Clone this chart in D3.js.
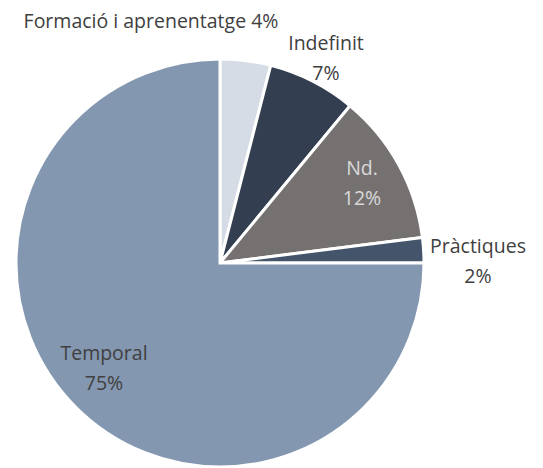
<!DOCTYPE html>
<html><head><meta charset="utf-8">
<script src="https://cdn.jsdelivr.net/npm/d3@7"></script>
<style>body{margin:0;background:#fff}svg{display:block}</style>
</head><body>
<script>
const categories = ["Formació i aprenentatge", "Indefinit", "Nd.", "Pràctiques", "Temporal"];
const values = [4, 7, 12, 2, 75];
const colors = ["#d6dce5", "#333f50", "#767171", "#44546a", "#8497b0"];

const W = 543, H = 468, cx = 220, cy = 263, R = 204;
const svg = d3.select("body").append("svg").attr("width", W).attr("height", H);
const g = svg.append("g").attr("transform", `translate(${cx},${cy})`);

const pie = d3.pie().sort(null).value(d => d.v);
const data = pie(categories.map((c, i) => ({c, v: values[i], col: colors[i]})));
const arc = d3.arc().innerRadius(0).outerRadius(R);

g.selectAll("path").data(data).join("path")
  .attr("d", arc).attr("fill", d => d.data.col)
  .attr("stroke", "#fff").attr("stroke-width", 3).attr("stroke-linejoin", "miter");

// labels (positions relative to center)
const font = "Open Sans, sans-serif", fs = 19.5;
const labels = [
  {lines: ["Formació i aprenentatge 4%"], x: -69, y: -235, col: "#404040"},
  {lines: ["Indefinit", "7%"], x: 106, y: -213, col: "#404040"},
  {lines: ["Nd.", "12%"], x: 142, y: -88, col: "#d9d9d9"},
  {lines: ["Pràctiques", "2%"], x: 258, y: -10, col: "#404040"},
  {lines: ["Temporal", "75%"], x: -116, y: 97, col: "#404040"}
];
labels.forEach(l => {
  const t = g.append("text").attr("text-anchor", "middle")
    .attr("font-family", font).attr("font-size", fs).attr("fill", l.col);
  l.lines.forEach((s, i) => {
    t.append("tspan").attr("x", l.x).attr("y", l.y + i * 29.5).text(s);
  });
});
</script>
</body></html>
